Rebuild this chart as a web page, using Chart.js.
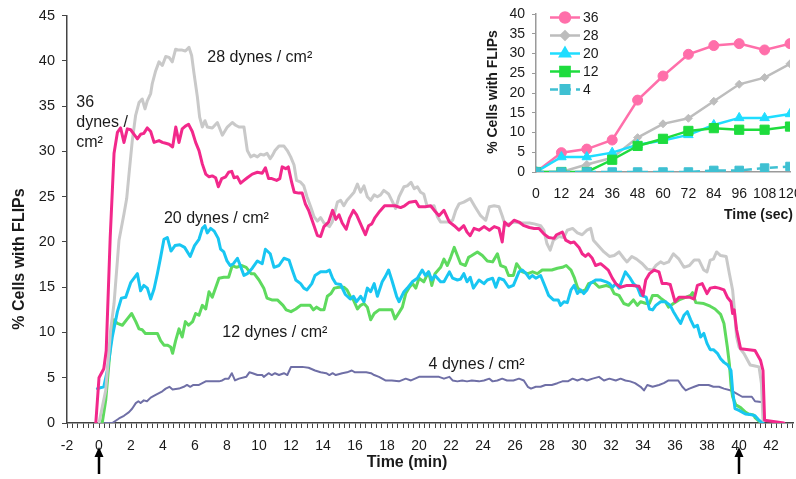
<!DOCTYPE html>
<html>
<head>
<meta charset="utf-8">
<title>FLIPs vs shear stress</title>
<script src="https://cdn.jsdelivr.net/npm/chart.js@4.4.1/dist/chart.umd.min.js"></script>
<style>
  html, body { margin: 0; padding: 0; background: #ffffff; overflow: hidden; }
  #wrap { position: relative; width: 796px; height: 479px; overflow: hidden; }
  #main { position: absolute; left: 0; top: 0; }
  #inset { position: absolute; left: 470px; top: 0; }
</style>
</head>
<body>
<div id="wrap">
  <canvas id="main" width="796" height="479"></canvas>
  <canvas id="inset" width="340" height="232"></canvas>
</div>
<script>
// ---- Main panel: % cells with FLIPs over time (minutes), one trace per shear stress ----
const t36 = [-0.2,0.0,0.3,0.45,0.7,0.94,1.15,1.35,1.56,1.77,1.98,2.19,2.4,2.6,2.8,3.02,3.23,3.44,3.75,3.96,4.17,4.38,4.6,4.8,5.0,5.2,5.4,5.6,5.83,6.04,6.25,6.46,6.67,6.88,7.08,7.29,7.46,7.67,7.92,8.1,8.3,8.44,8.65,8.85,9.06,9.27,9.58,9.9,10.2,10.4,10.6,10.8,11.1,11.3,11.45,11.67,11.83,12.04,12.2,12.5,12.7,12.9,13.1,13.4,13.65,13.85,14.06,14.35,14.6,14.8,15.0,15.2,15.45,15.65,15.9,16.1,16.3,16.5,16.65,16.85,17.05,17.25,17.55,17.85,18.5,18.85,19.1,19.4,19.8,20.0,20.4,20.73,21.0,21.25,21.56,21.9,22.2,22.5,22.8,23.0,23.2,23.44,23.75,24.06,24.4,24.7,25.0,25.2,25.35,25.6,25.94,26.25,26.56,26.9,27.2,27.5,27.8,28.1,28.44,28.6,28.96,29.17,29.48,29.69,30.0,30.2,30.4,30.58,30.83,31.04,31.35,31.56,31.83,32.08,32.3,32.6,33.0,33.33,33.75,34.0,34.17,34.4,34.7,35.0,35.2,35.5,35.7,36.0,36.25,36.9,37.2,37.4,37.7,38.0,38.2,38.5,38.75,39.06,39.27,39.5,39.6,39.7,39.85,40.1,41.0,41.35,41.5,41.6,42.8];
const v36 = [0,5.0,6.0,8.0,20.5,29.8,32.1,32.6,31.0,32.5,32.4,31.9,31.4,31.9,32.0,32.6,32.2,31.0,31.2,31.0,30.9,30.8,30.5,32.7,31.0,32.5,32.8,33.0,32.2,31.0,30.1,28.6,27.5,27.2,27.3,27.1,26.1,27.0,27.2,27.7,27.8,27.1,27.2,26.5,26.8,27.1,27.5,27.7,27.6,28.2,27.0,27.0,26.8,27.0,28.3,28.1,28.3,26.6,25.5,25.4,25.4,24.2,23.5,22.0,20.7,20.6,21.7,22.2,23.5,22.5,23.0,22.1,21.4,22.6,23.5,23.0,22.2,21.4,20.8,21.8,22.0,22.7,23.4,24.0,24.0,23.8,24.0,24.4,24.5,23.9,23.9,24.0,23.4,22.9,23.5,22.2,21.8,21.3,21.8,21.1,20.7,21.5,21.3,21.7,21.3,21.7,21.5,20.0,22.2,21.8,22.4,22.2,21.8,21.6,21.5,21.5,20.9,20.5,20.4,20.8,21.1,20.2,19.9,20.0,19.4,18.7,18.4,18.7,18.2,17.4,17.6,17.3,16.9,16.0,15.4,15.0,15.2,15.2,15.1,14.1,15.8,16.5,16.9,16.7,15.4,15.4,15.3,13.4,13.9,13.9,13.7,15.2,15.4,14.3,14.9,15.0,14.9,14.7,13.9,13.4,12.1,12.5,10.3,8.2,8.0,6.9,5.8,0.3,0];

const t28 = [0.0,0.42,0.73,0.94,1.25,1.56,1.73,1.875,2.08,2.29,2.5,2.7,2.875,3.02,3.23,3.33,3.54,3.75,3.96,4.17,4.38,4.58,4.79,5.0,5.2,5.4,5.625,5.79,5.94,6.15,6.29,6.46,6.625,6.77,7.08,7.4,7.71,8.02,8.33,8.54,8.75,9.06,9.27,9.48,9.69,9.9,10.1,10.3,10.5,10.7,10.85,11.0,11.25,11.56,11.77,11.98,12.19,12.35,12.6,12.8,13.0,13.23,13.44,13.65,13.85,14.06,14.4,14.58,14.9,15.1,15.3,15.5,15.7,15.94,16.15,16.35,16.56,16.77,16.98,17.2,17.4,17.6,17.8,18.1,18.3,18.54,18.75,19.06,19.27,19.5,19.7,19.9,20.1,20.3,20.5,20.7,20.94,21.15,21.35,21.77,22.1,22.3,22.5,22.8,23.0,23.2,23.5,23.85,24.17,24.4,24.7,25.0,25.2,25.4,25.6,25.94,26.35,26.9,27.2,27.6,27.8,28.0,28.2,28.4,28.75,29.06,29.27,29.6,29.9,30.2,30.5,30.73,30.9,31.25,31.56,31.9,32.2,32.5,32.8,33.0,33.3,33.6,33.96,34.27,34.6,34.8,35.1,35.31,35.6,35.9,36.25,36.56,36.9,37.2,37.5,37.8,38.0,38.2,38.4,38.6,38.85,39.2,39.4,39.6,39.7,39.85,40.0,40.3,40.7,41.0,41.25,41.4,41.5];
const v28 = [0,3.6,10.3,13.2,20.2,23.1,24.8,27.5,31.2,34.0,35.4,35.8,34.7,35.6,36.4,37.5,38.9,39.9,39.5,40.5,40.4,39.9,41.3,41.2,41.2,41.1,41.5,40.6,38.6,36.0,33.8,32.7,33.4,32.7,32.6,33.2,31.8,32.7,33.2,32.9,32.7,32.7,30.1,29.4,29.6,29.4,29.7,29.6,29.8,29.2,29.6,30.1,30.6,30.6,30.1,29.4,28.5,26.8,26.6,26.2,25.0,23.9,22.8,22.3,22.7,22.1,21.7,22.2,24.4,24.6,24.0,24.6,25.0,25.5,26.4,25.5,26.2,25.0,24.6,25.2,25.0,25.2,25.7,25.3,24.6,23.7,25.0,26.1,26.2,26.6,25.9,26.1,25.5,25.3,24.0,23.9,24.0,22.8,22.2,22.2,22.4,23.5,24.2,24.4,24.6,24.8,23.9,22.9,22.4,23.9,24.0,23.9,22.9,21.8,22.0,22.2,22.1,22.1,22.0,21.8,21.3,19.8,19.1,20.2,20.6,20.5,21.3,21.5,21.0,20.8,21.3,21.5,20.2,19.5,18.9,18.4,18.5,18.9,18.2,17.8,18.4,18.1,17.6,17.0,16.9,17.4,17.8,17.6,17.8,18.7,18.1,17.2,17.4,18.0,18.0,16.9,16.7,18.0,18.1,18.9,18.5,18.4,16.5,14.7,12.8,9.5,8.4,7.7,6.4,6.3,6.2,4.4,0.3];

const t20 = [-0.1,0.3,0.52,0.83,1.15,1.4,1.67,1.98,2.19,2.4,2.6,2.8,3.02,3.23,3.44,3.65,3.85,4.06,4.27,4.5,4.75,5.05,5.35,5.7,5.97,6.25,6.46,6.62,6.77,6.98,7.2,7.45,7.6,7.8,8.0,8.2,8.4,8.65,8.85,9.06,9.27,9.58,9.9,10.2,10.4,10.7,10.94,11.25,11.56,11.875,12.08,12.3,12.6,12.8,13.0,13.3,13.5,13.85,14.2,14.4,14.6,14.8,15.1,15.4,15.7,15.9,16.1,16.35,16.56,16.77,16.98,17.2,17.4,17.7,17.9,18.1,18.3,18.6,18.75,19.06,19.27,19.58,19.9,20.2,20.4,20.6,20.8,21.0,21.35,21.56,21.9,22.1,22.4,22.6,22.8,23.0,23.2,23.4,23.75,24.06,24.27,24.6,24.8,25.0,25.3,25.6,25.9,26.25,26.46,26.7,26.9,27.08,27.3,27.6,27.9,28.1,28.4,28.7,28.85,29.06,29.27,29.5,29.7,29.9,30.1,30.3,30.5,30.7,31.04,31.35,31.7,31.9,32.1,32.3,32.5,32.7,32.9,33.2,33.4,33.65,33.85,34.2,34.4,34.6,34.8,35.1,35.4,35.7,35.9,36.1,36.35,36.56,36.77,36.98,37.2,37.4,37.6,37.8,38.0,38.2,38.4,38.65,38.85,39.06,39.3,39.5,39.6,39.75,40.0,40.4,40.8,41.0,41.25,41.5];
const v20 = [3.8,4.0,5.8,9.5,12.3,13.8,13.9,15.5,16.0,16.5,14.6,15.2,14.9,13.7,14.8,16.5,18.3,20.3,20.5,19.0,19.6,19.7,19.4,18.4,19.6,20.3,21.5,21.8,21.0,21.5,21.2,20.4,19.2,18.9,17.9,17.4,17.6,18.2,17.3,16.3,16.5,17.1,17.9,17.6,19.2,18.7,17.2,17.4,18.2,18.0,16.9,15.8,15.4,14.9,14.7,15.4,16.3,16.7,16.7,16.9,16.0,15.4,15.3,14.2,13.7,14.0,13.4,14.0,13.4,14.9,14.5,15.4,14.0,15.6,16.2,16.9,15.8,14.0,13.4,14.5,14.9,15.6,16.0,16.9,16.3,16.7,15.8,16.3,15.6,15.6,16.7,16.0,15.8,15.9,16.5,15.6,16.1,14.9,15.8,15.4,15.8,16.0,15.0,16.0,15.8,15.0,15.2,16.7,16.9,16.5,16.0,16.3,16.0,16.3,15.0,14.1,13.6,13.6,13.0,13.4,13.3,14.7,15.2,14.3,14.7,14.3,14.7,15.4,15.8,15.8,15.6,15.4,15.0,15.4,14.9,15.8,16.7,16.0,15.4,15.0,14.1,13.9,12.6,12.5,13.0,13.4,13.4,13.0,12.3,11.7,11.0,11.9,12.3,11.4,10.6,10.8,9.5,9.9,8.8,8.1,8.1,7.7,7.1,6.7,6.4,5.8,3.6,1.6,1.4,1.0,0.9,0.8,0.3,0];

const t12 = [0.2,0.42,0.73,0.94,1.15,1.46,1.77,2.04,2.3,2.5,2.7,2.9,3.33,3.65,3.85,4.06,4.27,4.48,4.6,4.79,5.0,5.2,5.4,5.6,5.85,6.04,6.25,6.46,6.67,6.875,7.08,7.3,7.5,7.8,8.1,8.33,8.6,8.9,9.2,9.5,9.7,10.0,10.3,10.5,10.8,11.15,11.5,11.7,12.0,12.3,12.6,12.9,13.2,13.4,13.6,13.85,14.06,14.27,14.5,14.7,15.0,15.3,15.5,15.7,15.9,16.15,16.35,16.56,16.77,16.98,17.2,17.5,17.9,18.3,18.5,18.75,18.96,19.17,19.4,19.6,19.8,20.0,20.3,20.6,20.8,21.0,21.35,21.56,21.77,21.98,22.2,22.4,22.6,22.9,23.1,23.3,23.65,23.96,24.27,24.6,24.9,25.1,25.4,25.6,25.9,26.1,26.46,26.8,27.1,27.4,27.7,28.0,28.3,28.65,28.96,29.2,29.5,29.7,29.9,30.1,30.4,30.6,30.9,31.25,31.7,32.0,32.2,32.5,32.8,33.1,33.4,33.65,33.85,34.2,34.4,34.6,34.9,35.1,35.4,35.6,35.9,36.25,36.7,36.98,37.1,37.3,37.8,38.2,38.5,38.85,39.06,39.27,39.4,39.5,39.6,39.8,40.1,40.4,40.6,40.9,41.0,41.25,41.45];
const v12 = [0,2.5,8.8,11.4,11.0,10.8,11.5,12.1,11.2,10.4,10.3,9.9,9.9,9.9,9.1,8.6,8.6,8.4,7.7,9.1,10.4,9.5,11.2,10.8,11.2,12.1,11.9,13.0,12.6,14.5,13.9,15.0,16.0,16.1,16.1,17.4,17.2,17.4,17.2,16.5,16.5,15.8,14.9,13.8,13.6,13.6,13.0,12.5,12.3,12.6,13.0,13.0,13.0,12.5,12.8,12.5,12.5,14.0,14.3,14.9,15.0,15.0,14.7,14.0,13.6,12.6,13.0,13.2,12.8,11.4,12.1,12.5,12.5,12.5,11.5,12.2,12.8,14.3,15.0,15.4,14.9,16.0,15.6,16.7,15.2,16.5,17.2,18.1,17.4,18.3,19.4,18.5,17.6,17.4,18.3,18.5,18.9,18.5,17.9,17.8,18.7,17.4,17.2,16.3,16.3,17.6,16.7,16.5,16.7,16.5,16.9,16.9,16.9,17.1,17.2,17.4,16.9,16.1,15.0,14.5,14.7,15.4,15.6,15.0,15.2,15.0,14.3,14.1,13.2,13.0,13.6,13.0,13.4,13.2,13.2,14.1,14.1,13.8,13.4,12.8,13.2,13.6,13.9,14.1,14.4,13.3,13.2,12.9,12.6,12.0,11.0,8.4,6.5,4.2,2.9,2.0,1.7,1.2,1.0,0.9,0.6,0.2,0];

const t4 = [0.0,0.83,1.25,1.56,1.875,2.08,2.3,2.46,2.6,2.8,3.0,3.23,3.54,3.75,3.96,4.17,4.4,4.6,5.0,5.3,5.5,5.7,5.9,6.25,6.67,7.08,7.5,7.7,7.9,8.1,8.3,8.5,8.75,9.2,9.4,9.6,9.9,10.2,10.3,10.6,10.8,11.0,11.25,11.56,11.77,12.0,12.3,12.7,13.1,13.5,13.85,14.2,14.4,14.6,14.8,15.2,15.5,15.8,16.0,16.25,16.7,17.0,17.2,17.5,17.9,18.3,18.75,19.17,19.5,20.0,20.4,20.8,21.25,21.56,21.9,22.1,22.4,22.7,23.0,23.3,23.75,24.06,24.4,24.6,24.9,25.2,25.5,25.9,26.25,26.55,26.8,27.0,27.3,27.6,27.9,28.3,28.65,28.96,29.3,29.6,29.9,30.2,30.5,30.85,31.25,31.56,31.9,32.3,32.6,32.9,33.2,33.5,33.85,34.06,34.27,34.6,35.0,35.3,35.6,36.0,36.2,36.46,36.67,36.9,37.2,37.5,37.8,38.1,38.4,38.75,39.06,39.5,39.8,40.2,40.8,41.0,41.5];
const v4 = [0,0,0.5,0.8,1.2,1.6,2.2,2.4,2.2,2.5,2.4,2.8,3.1,3.3,3.5,3.8,4.0,3.7,3.8,4.0,4.2,4.0,4.2,4.2,4.6,4.6,4.6,4.7,4.9,4.9,5.5,4.7,4.9,5.1,5.6,5.5,5.3,5.3,5.1,5.5,5.3,5.5,5.3,5.5,5.3,6.2,6.2,6.2,6.1,5.8,5.6,5.5,5.3,5.5,5.3,5.5,5.6,5.8,5.6,5.6,5.6,5.5,5.3,5.1,4.7,4.7,4.6,4.9,4.7,5.1,5.1,5.1,5.1,4.9,5.1,4.7,4.6,4.7,4.6,4.7,4.6,4.7,4.9,4.6,4.7,4.9,4.7,4.7,4.9,4.7,4.0,3.8,4.0,4.0,4.2,4.2,4.4,4.6,4.6,4.9,4.7,4.9,4.7,4.9,5.1,4.7,4.9,4.7,4.9,4.7,4.6,4.4,4.0,3.6,4.2,4.0,4.2,4.4,4.7,4.7,4.7,4.0,3.6,3.8,4.0,4.2,4.2,4.2,4.0,4.0,3.8,3.6,3.3,2.9,2.9,2.4,2.3];

// ---- Inset: first two minutes, sampled every 12 s ----
const insetSeconds = [0, 12, 24, 36, 48, 60, 72, 84, 96, 108, 120];
const inset36 = [0, 4.9, 5.8, 8.1, 18.2, 24.3, 29.8, 32.0, 32.5, 30.9, 32.5];
const inset28 = [0, 0, 1.9, 3.6, 8.7, 12.2, 13.6, 17.9, 22.2, 23.9, 27.4];
const inset20 = [0, 3.8, 3.8, 4.9, 6.9, 8.0, 9.4, 11.9, 13.7, 13.7, 14.7];
const inset12 = [0, 0, 0, 3.1, 6.6, 8.4, 10.4, 11.1, 10.7, 10.7, 11.5];
const inset4  = [0, 0, 0, 0, 0, 0, 0, 0.4, 0.4, 1.0, 1.4];
const insetLabels = ['36', '28', '20', '12', '4'];

const FONT = '"Liberation Sans", Arial, Helvetica, sans-serif';
const pairs = (xs, ys) => xs.map((x, i) => ({ x, y: ys[i] }));

function trace(ts, vs, color, width, order) {
  return {
    data: pairs(ts, vs), borderColor: color, borderWidth: width,
    pointRadius: 0, tension: 0, fill: false, order,
    borderJoinStyle: 'round', borderCapStyle: 'round'
  };
}

// keep the plot edges where the layout padding puts them
const noEdgePadding = scale => { scale.paddingLeft = 0; scale.paddingRight = 0; };

// Text labels, axis titles and the start/stop arrows of the main panel
const mainDecor = {
  id: 'mainDecor',
  afterDraw(chart) {
    const { ctx } = chart;
    const xs = chart.scales.x, ys = chart.scales.y;
    const notes = [
      { lines: ['28 dynes / cm²'], t: 6.77, v: 40.4 },
      { lines: ['36', 'dynes /', 'cm²'], t: -1.42, v: 35.4 },
      { lines: ['20 dynes / cm²'], t: 4.06, v: 22.6 },
      { lines: ['12 dynes / cm²'], t: 7.71, v: 10.0 },
      { lines: ['4 dynes / cm²'], t: 20.6, v: 6.4 }
    ];
    ctx.save();
    ctx.fillStyle = '#1a1a1a';
    ctx.font = '16px ' + FONT;
    ctx.textAlign = 'left';
    ctx.textBaseline = 'middle';
    notes.forEach(n => {
      n.lines.forEach((line, i) => {
        ctx.fillText(line, xs.getPixelForValue(n.t), ys.getPixelForValue(n.v) + i * 20);
      });
    });

    ctx.font = 'bold 16px ' + FONT;
    ctx.textAlign = 'center';
    ctx.fillText('Time (min)', 407, 463);
    ctx.save();
    ctx.translate(20, 259);
    ctx.rotate(-Math.PI / 2);
    ctx.fillText('% Cells with FLIPs', 0, 0);
    ctx.restore();

    // flow on / flow off markers
    [0, 40].forEach(t => {
      const px = Math.round(xs.getPixelForValue(t));
      ctx.strokeStyle = '#000';
      ctx.fillStyle = '#000';
      ctx.lineWidth = 2.5;
      ctx.beginPath();
      ctx.moveTo(px, 474);
      ctx.lineTo(px, 455);
      ctx.stroke();
      ctx.beginPath();
      ctx.moveTo(px, 447);
      ctx.lineTo(px - 4.5, 457);
      ctx.lineTo(px + 4.5, 457);
      ctx.closePath();
      ctx.fill();
    });
    ctx.restore();
  }
};

new Chart(document.getElementById('main'), {
  type: 'line',
  data: {
    datasets: [
      trace(t36, v36, '#F2288B', 3, 0),
      trace(t28, v28, '#C9C9C9', 3, 1),
      trace(t20, v20, '#18C6F2', 3, 2),
      trace(t12, v12, '#5EDA5E', 3, 3),
      trace(t4, v4, '#6F6FA6', 2, 4)
    ]
  },
  options: {
    responsive: false,
    animation: false,
    layout: { padding: { left: 0, right: 3, top: 15, bottom: 0 } },
    plugins: { legend: { display: false }, tooltip: { enabled: false } },
    scales: {
      x: {
        type: 'linear', min: -2, max: 43.375,
        afterBuildTicks: scale => {
          const ticks = [];
          for (let i = 0; i <= 136; i++) ticks.push({ value: -2 + i / 3 });
          scale.ticks = ticks;
        },
        afterFit: scale => { scale.height = 56; noEdgePadding(scale); },
        ticks: {
          autoSkip: false, maxRotation: 0, minRotation: 0, padding: 10,
          color: '#1a1a1a', font: { family: FONT, size: 14 },
          callback: value => {
            const r = Math.round(value);
            return (Math.abs(value - r) < 1e-6 && r % 2 === 0) ? String(r) : '';
          }
        },
        grid: { drawOnChartArea: false, drawTicks: true, tickLength: 5, color: '#444', lineWidth: 1 },
        border: { display: true, color: '#444', width: 1.5 }
      },
      y: {
        min: 0, max: 45,
        afterFit: scale => { scale.width = 67; },
        ticks: { stepSize: 5, autoSkip: false, padding: 7, color: '#1a1a1a', font: { family: FONT, size: 14.5 } },
        grid: { drawOnChartArea: false, drawTicks: true, tickLength: 5, color: '#444', lineWidth: 1 },
        border: { display: true, color: '#444', width: 1.5 }
      }
    }
  },
  plugins: [mainDecor]
});

// ---- Inset chart ----
const insetDecor = {
  id: 'insetDecor',
  afterDraw(chart) {
    const { ctx } = chart;
    ctx.save();
    ctx.fillStyle = '#1a1a1a';
    ctx.font = 'bold 14px ' + FONT;
    ctx.textBaseline = 'middle';
    ctx.textAlign = 'right';
    ctx.fillText('Time (sec)', 323, 215);
    ctx.textAlign = 'center';
    ctx.save();
    ctx.translate(23, 92);
    ctx.rotate(-Math.PI / 2);
    ctx.fillText('% Cells with FLIPs', 0, 0);
    ctx.restore();

    // legend drawn inside the plot area, one row per dataset
    const byLabel = {};
    chart.data.datasets.forEach(ds => { byLabel[ds.label] = ds; });
    insetLabels.forEach((lab, i) => {
      const ds = byLabel[lab];
      const y = 17.5 + i * 18;
      ctx.strokeStyle = ds.borderColor;
      ctx.lineWidth = ds.borderWidth;
      ctx.setLineDash(ds.borderDash || []);
      ctx.beginPath();
      ctx.moveTo(80, y);
      ctx.lineTo(110, y);
      ctx.stroke();
      ctx.setLineDash([]);
      ctx.fillStyle = ds.pointBackgroundColor;
      ctx.strokeStyle = ds.pointBorderColor;
      Chart.helpers.drawPoint(ctx, { pointStyle: ds.pointStyle, radius: ds.pointRadius, rotation: 0, borderWidth: 1 }, 95, y);
      ctx.fillStyle = '#1a1a1a';
      ctx.font = '14px ' + FONT;
      ctx.textAlign = 'left';
      ctx.fillText(lab, 113, y + 1);
    });
    ctx.restore();
  }
};

function insetTrace(label, values, color, style, radius, order, dash) {
  return {
    label, data: pairs(insetSeconds, values),
    borderColor: color, borderWidth: 2.5, borderDash: dash || [],
    pointStyle: style, pointRadius: radius,
    pointBackgroundColor: color, pointBorderColor: color, pointBorderWidth: 1,
    tension: 0, fill: false, order
  };
}

new Chart(document.getElementById('inset'), {
  type: 'line',
  data: {
    datasets: [
      insetTrace('36', inset36, '#FF6FAA', 'circle', 5, 4),
      insetTrace('28', inset28, '#BDBDBD', 'rectRot', 4, 3),
      insetTrace('20', inset20, '#1FDDFF', 'triangle', 5.5, 2),
      insetTrace('12', inset12, '#1EDC3E', 'rect', 6.5, 1),
      insetTrace('4', inset4, '#3FC0D2', 'rect', 6, 0, [8, 5])
    ]
  },
  options: {
    responsive: false,
    animation: false,
    layout: { padding: { left: 0, right: 20, top: 13, bottom: 0 } },
    plugins: { legend: { display: false }, tooltip: { enabled: false } },
    scales: {
      x: {
        type: 'linear', min: 0, max: 120,
        afterBuildTicks: scale => { scale.ticks = insetSeconds.map(v => ({ value: v })); },
        afterFit: scale => { scale.height = 60; noEdgePadding(scale); },
        ticks: { autoSkip: false, maxRotation: 0, padding: 14, color: '#1a1a1a', font: { family: FONT, size: 14 } },
        grid: { drawOnChartArea: false, drawTicks: false },
        border: { display: true, color: '#9a9a9a', width: 1.5 }
      },
      y: {
        min: 0, max: 40,
        afterFit: scale => { scale.width = 66; },
        afterBuildTicks: scale => {
          const ticks = [];
          for (let v = 0; v <= 40; v += 5) ticks.push({ value: v });
          scale.ticks = ticks;
        },
        ticks: {
          autoSkip: false, autoSkipPadding: 0, padding: 7, color: '#1a1a1a',
          font: { family: FONT, size: 14, lineHeight: 1 }
        },
        grid: { drawOnChartArea: false, drawTicks: true, tickLength: 4, color: '#9a9a9a' },
        border: { display: true, color: '#9a9a9a', width: 1.5 }
      }
    }
  },
  plugins: [insetDecor]
});
</script>
</body>
</html>
